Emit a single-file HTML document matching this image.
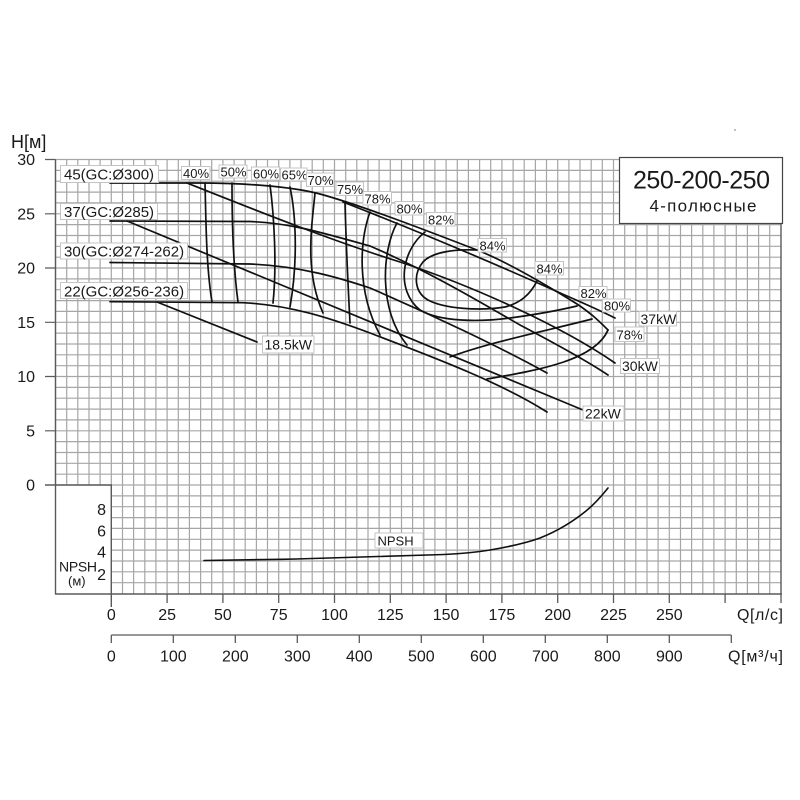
<!DOCTYPE html>
<html><head><meta charset="utf-8"><style>
html,body{margin:0;padding:0;background:#fff;}
svg{display:block;}
text{font-family:"Liberation Sans",Arial,sans-serif;fill:#1a1a1a;}
.lb{fill:#fff;stroke:#c4c4c4;stroke-width:1;}
.c{fill:none;stroke:#111;stroke-width:1.7;stroke-linejoin:round;stroke-linecap:round;}
</style></head><body>
<svg width="800" height="800" viewBox="0 0 800 800" xmlns="http://www.w3.org/2000/svg">
<rect x="0" y="0" width="800" height="800" fill="#fff"/>
<!-- grid -->
<path fill="none" stroke="#a6a6a6" stroke-width="1.2" d="
M55.5 159.5V485M66.7 159.5V485M77.8 159.5V485M89 159.5V485M100.1 159.5V485
M111.3 159.5V593.5M122.5 159.5V593.5M133.6 159.5V593.5M144.8 159.5V593.5M155.9 159.5V593.5M167.1 159.5V593.5M178.3 159.5V593.5M189.4 159.5V593.5M200.6 159.5V593.5M211.7 159.5V593.5
M222.9 159.5V593.5M234.1 159.5V593.5M245.2 159.5V593.5M256.4 159.5V593.5M267.5 159.5V593.5M278.7 159.5V593.5M289.9 159.5V593.5M301 159.5V593.5M312.2 159.5V593.5M323.3 159.5V593.5
M334.5 159.5V593.5M345.7 159.5V593.5M356.8 159.5V593.5M368 159.5V593.5M379.1 159.5V593.5M390.3 159.5V593.5M401.5 159.5V593.5M412.6 159.5V593.5M423.8 159.5V593.5M434.9 159.5V593.5
M446.1 159.5V593.5M457.3 159.5V593.5M468.4 159.5V593.5M479.6 159.5V593.5M490.7 159.5V593.5M501.9 159.5V593.5M513.1 159.5V593.5M524.2 159.5V593.5M535.4 159.5V593.5M546.5 159.5V593.5
M557.7 159.5V593.5M568.9 159.5V593.5M580 159.5V593.5M591.2 159.5V593.5M602.3 159.5V593.5M613.5 159.5V593.5M624.7 159.5V593.5M635.8 159.5V593.5M647 159.5V593.5M658.1 159.5V593.5
M669.3 159.5V593.5M680.5 159.5V593.5M691.6 159.5V593.5M702.8 159.5V593.5M713.9 159.5V593.5M725.1 159.5V593.5M736.3 159.5V593.5M747.4 159.5V593.5M758.6 159.5V593.5M769.7 159.5V593.5
M55.5 159.5H781M55.5 170.4H781M55.5 181.2H781M55.5 192.1H781M55.5 202.9H781M55.5 213.8H781M55.5 224.6H781M55.5 235.5H781M55.5 246.3H781M55.5 257.2H781
M55.5 268H781M55.5 278.9H781M55.5 289.7H781M55.5 300.6H781M55.5 311.4H781M55.5 322.3H781M55.5 333.1H781M55.5 344H781M55.5 354.8H781M55.5 365.7H781
M55.5 376.5H781M55.5 387.4H781M55.5 398.2H781M55.5 409.1H781M55.5 419.9H781M55.5 430.8H781M55.5 441.6H781M55.5 452.5H781M55.5 463.3H781M55.5 474.2H781M55.5 485H781
M111.3 495.9H781M111.3 506.7H781M111.3 517.6H781M111.3 528.4H781M111.3 539.3H781M111.3 550.1H781M111.3 561H781M111.3 571.8H781M111.3 582.7H781"/>
<!-- frame -->
<path fill="none" stroke="#5a5a5a" stroke-width="1.4" d="M55.5 159.5V594M781 158V594M45 485H111.3V607M55 594H782"/>
<!-- H ticks -->
<path fill="none" stroke="#5a5a5a" stroke-width="1.2" d="M45 159.5H55.5M45 213.8H55.5M45 268H55.5M45 322.3H55.5M45 376.5H55.5M45 430.8H55.5"/>
<!-- Q ticks -->
<path fill="none" stroke="#5a5a5a" stroke-width="1.3" d="M167.1 594V603M222.9 594V603M278.7 594V603M334.5 594V603M390.3 594V603M446.1 594V603M501.9 594V603M557.7 594V603M613.5 594V603M669.3 594V603M725.1 594V603M781 594V603"/>
<!-- m3/h axis -->
<path fill="none" stroke="#5a5a5a" stroke-width="1.3" d="M111.3 635H731.3M111.3 635V643M173.3 635V643M235.3 635V643M297.3 635V643M359.3 635V643M421.3 635V643M483.3 635V643M545.3 635V643M607.3 635V643M669.3 635V643M731.3 635V643"/>

<!-- H axis labels -->
<g font-size="16" text-anchor="end">
<text x="35" y="165.2">30</text>
<text x="35" y="219.5">25</text>
<text x="35" y="273.7">20</text>
<text x="35" y="328">15</text>
<text x="35" y="382.2">10</text>
<text x="35" y="436.5">5</text>
<text x="35" y="490.7">0</text>
</g>
<text x="11" y="148" font-size="18">H[м]</text>
<circle cx="735" cy="130" r="0.8" fill="#777"/>

<!-- NPSH box labels -->
<g font-size="16" text-anchor="end">
<text x="106" y="515">8</text>
<text x="106" y="536.5">6</text>
<text x="106" y="557.5">4</text>
<text x="106" y="580">2</text>
</g>
<text x="59" y="571.5" font-size="14" textLength="38">NPSH</text>
<text x="68" y="585.5" font-size="13">(м)</text>

<!-- Q axis labels -->
<g font-size="16" text-anchor="middle">
<text x="111.3" y="620">0</text>
<text x="167.1" y="620">25</text>
<text x="222.9" y="620">50</text>
<text x="278.7" y="620">75</text>
<text x="334.5" y="620">100</text>
<text x="390.3" y="620">125</text>
<text x="446.1" y="620">150</text>
<text x="501.9" y="620">175</text>
<text x="557.7" y="620">200</text>
<text x="613.5" y="620">225</text>
<text x="669.3" y="620">250</text>
<text x="111.3" y="661.5">0</text>
<text x="173.3" y="661.5">100</text>
<text x="235.3" y="661.5">200</text>
<text x="297.3" y="661.5">300</text>
<text x="359.3" y="661.5">400</text>
<text x="421.3" y="661.5">500</text>
<text x="483.3" y="661.5">600</text>
<text x="545.3" y="661.5">700</text>
<text x="607.3" y="661.5">800</text>
<text x="669.3" y="661.5">900</text>
</g>
<text x="737" y="620" font-size="16" textLength="46">Q[л/с]</text>
<text x="728" y="661.5" font-size="16" textLength="55">Q[м³/ч]</text>

<!-- title box -->
<rect x="619.5" y="157.5" width="163" height="66" fill="#fff" stroke="#444" stroke-width="1.2"/>
<text x="633" y="188.3" font-size="25" textLength="137">250-200-250</text>
<text x="649.5" y="211.7" font-size="17" textLength="107">4-полюсные</text>

<!-- curves -->
<g class="c">
<!-- H-Q curves -->
<path d="M110,183 L200,183 C240,183 290,186 320,194 C360,205 420,228 477,250 C505,261 540,281 577,304 C592,314 600,322 608,330"/>
<path d="M110,221 L250,221.5 C290,223 320,232 370,246 C430,272 480,302 520,325 C560,346 590,363 608,375"/>
<path d="M110,262.5 L250,264 C300,266 340,278 370,288 C430,314 500,347 547,373"/>
<path d="M110,301.7 L243,302.7 C290,305 330,318 370,333 C430,356 500,382 547,412"/>
<!-- power lines -->
<path d="M343,202 C420,232 500,266 567,296 C590,306 605,313 615,318"/>
<path d="M187,183 C260,212 330,240 400,262 C470,285 560,325 615,363"/>
<path d="M127,221 L583,410"/>
<path d="M157,302 L257,342"/>
<!-- efficiency -->
<path d="M205,183 C206,220 206,265 212,302"/>
<path d="M232,183 C232,220 233,265 238,302"/>
<path d="M270,185 C274,215 277,265 273,303"/>
<path d="M290,187 C296,215 298,262 290,307"/>
<path d="M315,193 C312,225 304,270 323,313"/>
<path d="M345,203 C346,240 348,285 350,323"/>
<path d="M370,212 C360,240 356,290 380,335"/>
<path d="M397,223 C382,250 378,310 407,345"/>
<path d="M450,357 C490,342 550,330 592,319"/>
<path d="M487,379 C540,370 595,360 608,330"/>
<path d="M425,232 C402,250 395,290 420,310 C440,322 480,322 510,318 C540,314 560,310 577,306"/>
<path d="M477,250 C455,249 432,252 423,262 C413,274 414,292 428,300 C445,309 480,311 505,307 C520,303 530,295 537,281"/>
<!-- NPSH -->
<path d="M204,560.5 C250,560 270,559.5 296,559 C360,557.5 410,556 444,554.5 C465,553.5 475,552.5 490,550 C510,546.6 525,543.5 540,538 C555,532 570,524 586,511 C597,502 603,494 608,488" stroke-width="1.6"/>
</g>

<!-- diameter labels -->
<g font-size="15">
<rect class="lb" x="60.5" y="165.5" width="98" height="17"/><text x="64" y="179.5">45(GC:Ø300)</text>
<rect class="lb" x="60.5" y="203.5" width="97" height="16"/><text x="64" y="217">37(GC:Ø285)</text>
<rect class="lb" x="60.5" y="243" width="127" height="16"/><text x="64" y="256.7">30(GC:Ø274-262)</text>
<rect class="lb" x="60.5" y="282.5" width="127" height="16"/><text x="64" y="296.5">22(GC:Ø256-236)</text>
</g>
<!-- percent labels -->
<g font-size="13">
<rect class="lb" x="181.5" y="166.5" width="28.5" height="13"/><text x="183" y="178">40%</text>
<rect class="lb" x="219" y="165" width="28" height="13"/><text x="220.5" y="176.5">50%</text>
<rect class="lb" x="251.5" y="167" width="28" height="13"/><text x="253" y="178.5">60%</text>
<rect class="lb" x="280.5" y="168" width="26.5" height="13"/><text x="281.5" y="179.5">65%</text>
<rect class="lb" x="306.5" y="173" width="27.5" height="13.5"/><text x="307.5" y="185">70%</text>
<rect class="lb" x="336" y="182" width="27.5" height="13.5"/><text x="337" y="194">75%</text>
<rect class="lb" x="363" y="191.5" width="28.5" height="13.5"/><text x="364.5" y="203.5">78%</text>
<rect class="lb" x="395" y="201.5" width="28.5" height="13.5"/><text x="396.5" y="213.5">80%</text>
<rect class="lb" x="426.5" y="212.5" width="28.5" height="13.5"/><text x="428" y="224.5">82%</text>
<rect class="lb" x="478" y="238.5" width="28.5" height="13.5"/><text x="479.5" y="250.5">84%</text>
<rect class="lb" x="535" y="261.5" width="28.5" height="13.5"/><text x="536.5" y="273.5">84%</text>
<rect class="lb" x="579" y="286.5" width="28" height="13"/><text x="580.5" y="298">82%</text>
<rect class="lb" x="602.5" y="299" width="28" height="13"/><text x="604" y="310.5">80%</text>
<rect class="lb" x="615" y="327" width="29" height="14.5"/><text x="616.5" y="339.5">78%</text>
</g>
<g font-size="14">
<rect class="lb" x="639" y="311.5" width="37.5" height="14.5"/><text x="640.5" y="324">37kW</text>
<rect class="lb" x="620.5" y="358.5" width="39" height="15"/><text x="622" y="371">30kW</text>
<rect class="lb" x="583" y="406" width="41" height="15"/><text x="585" y="418.5">22kW</text>
<rect class="lb" x="262.5" y="336" width="51.5" height="17"/><text x="264.5" y="349.5">18.5kW</text>
</g>
<rect class="lb" x="375" y="533" width="48" height="15"/><text x="377.5" y="545.5" font-size="13">NPSH</text>
</svg>
</body></html>
